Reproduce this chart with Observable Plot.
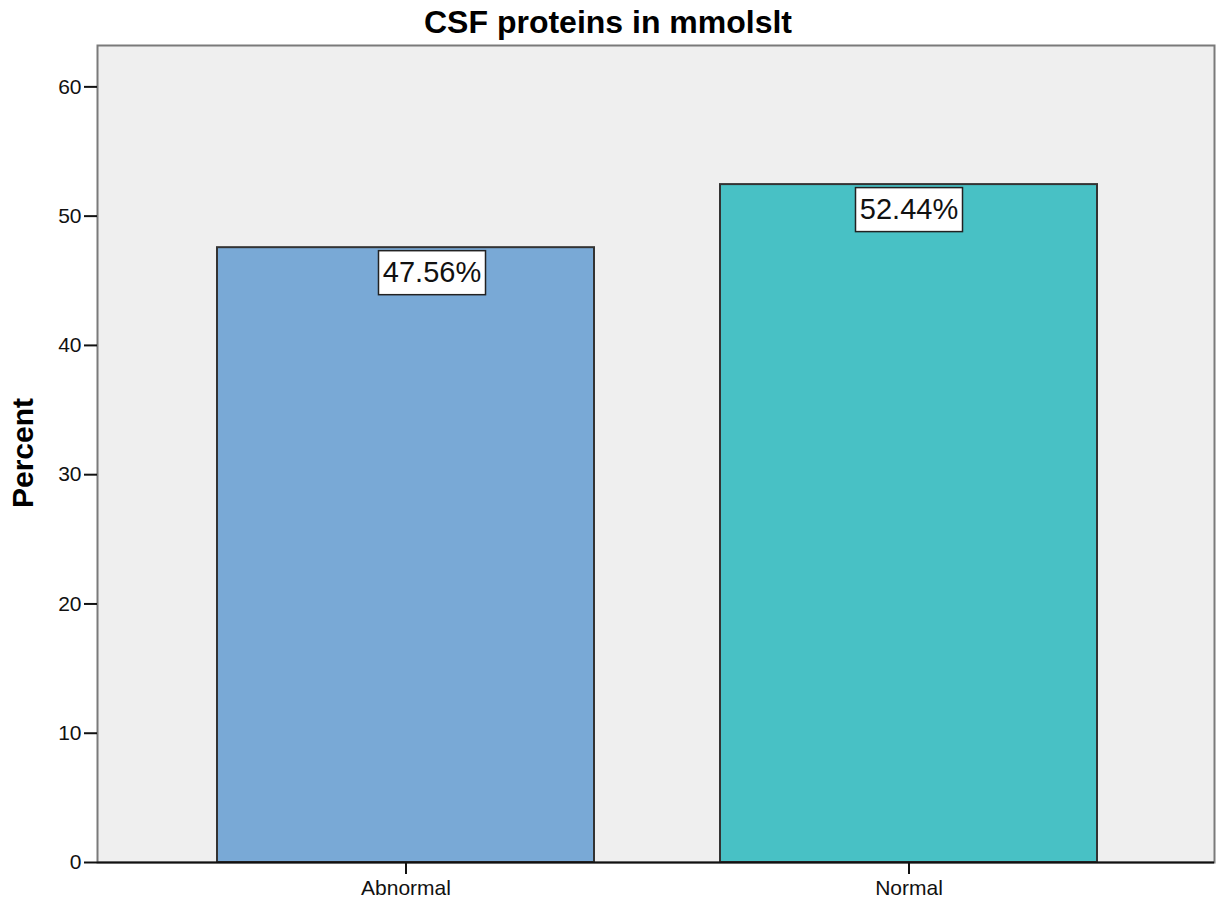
<!DOCTYPE html>
<html>
<head>
<meta charset="utf-8">
<script src="https://cdn.jsdelivr.net/npm/d3@7"></script>
<script src="https://cdn.jsdelivr.net/npm/@observablehq/plot@0.6"></script>
<style>
  html, body { margin: 0; padding: 0; background: #fff; }
  #wrap { position: relative; width: 1216px; height: 904px; font-family: "Liberation Sans", Arial, sans-serif; }
  #title { position: absolute; left: 0; top: 4px; width: 1216px; text-align: center; font-weight: bold; font-size: 32px; color: #000; }
  #ylab { position: absolute; left: 23px; top: 453px; transform: translate(-50%, -50%) rotate(-90deg); font-weight: bold; font-size: 30px; color: #000; white-space: nowrap; }
  #chart { position: absolute; left: 0; top: 0; }
</style>
</head>
<body>
<div id="wrap">
  <div id="chart"></div>
  <div id="title">CSF proteins in mmolslt</div>
  <div id="ylab">Percent</div>
</div>
<script>
const categories = ["Abnormal", "Normal"];
const percents = [47.56, 52.44];
const labels = ["47.56%", "52.44%"];
const colors = ["#79A9D6", "#48C1C5"];
const yTicks = [0, 10, 20, 30, 40, 50, 60];

const data = categories.map((c, i) => ({category: c, value: percents[i], label: labels[i], color: colors[i]}));

function boxed(w, h) {
  return function(index, scales, values, dimensions, context, next) {
    const g = next(index, scales, values, dimensions, context);
    const ns = "http://www.w3.org/2000/svg";
    const texts = Array.from(g.querySelectorAll("text"));
    texts.forEach((t, k) => {
      const i = index[k];
      const cx = values.x ? values.x[i] : 0;
      const cy = values.y ? values.y[i] : 0;
      const r = document.createElementNS(ns, "rect");
      r.setAttribute("x", cx - w / 2);
      r.setAttribute("y", cy - h / 2);
      r.setAttribute("width", w);
      r.setAttribute("height", h);
      r.setAttribute("fill", "#ffffff");
      r.setAttribute("stroke", "#222");
      r.setAttribute("stroke-width", 1.5);
      t.parentNode.insertBefore(r, t);
    });
    return g;
  };
}

const labelMark = (cat, dx) => Plot.text(data.filter(d => d.category === cat), {
  x: "category", y: "value", text: "label",
  dx, dy: 25, textAnchor: "middle", lineAnchor: "middle",
  fontSize: 29, fill: "#111",
  render: boxed(107, 44)
});

const chart = Plot.plot({
  width: 1216,
  height: 904,
  marginLeft: 97,
  marginRight: 2,
  marginTop: 45,
  marginBottom: 42,
  style: {fontFamily: "'Liberation Sans', Arial, sans-serif", background: "transparent", color: "#111"},
  x: {domain: categories, paddingInner: 0.25, paddingOuter: 0.234, align: 0.508, label: null},
  y: {domain: [0, 63.2], label: null},
  marks: [
    Plot.frame({fill: "#EFEFEF", stroke: "#7a7a7a", strokeWidth: 2}),
    Plot.barY(data, {x: "category", y: "value", fill: "color", stroke: "#333", strokeWidth: 2}),
    Plot.ruleX([0], {frameAnchor: "left", stroke: "#111", strokeWidth: 2}),
    Plot.ruleY([0], {stroke: "#111", strokeWidth: 2}),
    Plot.axisY({ticks: yTicks, tickSize: 13, tickPadding: 3, fontSize: 21, tickFormat: d => String(d), label: null, strokeWidth: 2}),
    Plot.axisX({tickSize: 12, tickPadding: 6, fontSize: 21, label: null, strokeWidth: 2}),
    labelMark("Abnormal", 26),
    labelMark("Normal", 0)
  ]
});
document.getElementById("chart").appendChild(chart);
</script>
</body>
</html>
